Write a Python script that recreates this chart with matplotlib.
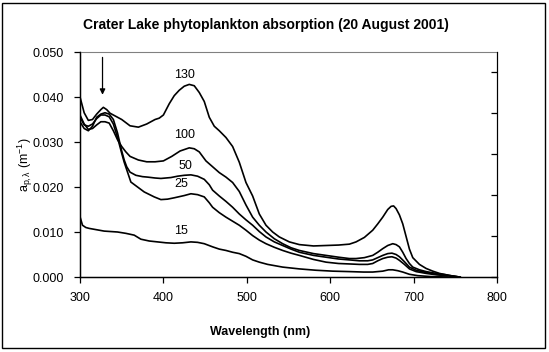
import matplotlib
matplotlib.use("Agg")
import matplotlib.pyplot as plt
from matplotlib.patches import Rectangle

plt.rcParams['font.family'] = ['Liberation Sans', 'DejaVu Sans']
plt.rcParams['mathtext.fontset'] = 'custom'
plt.rcParams['mathtext.rm'] = 'Liberation Sans'
plt.rcParams['mathtext.it'] = 'Liberation Sans'

# ---- data ----
wl_130 = [300, 305, 310, 315, 320, 325, 328, 332, 336, 340, 350, 360, 370, 380, 390, 395, 400,
          407, 413, 419, 425, 431, 437, 443, 449, 455, 461, 467, 475, 483, 491, 499, 507, 515,
          523, 531, 539, 551, 563, 580, 595, 610, 623, 631, 641, 651, 657, 663, 669, 673, 676,
          679, 683, 687, 691, 695, 699, 707, 715, 723, 731, 741, 751, 755]
a_130 = [0.0400, 0.0365, 0.0348, 0.0350, 0.0362, 0.0372, 0.0377, 0.0372, 0.0364, 0.0360, 0.0350,
         0.0336, 0.0333, 0.0340, 0.0350, 0.0353, 0.0360, 0.0385, 0.0403, 0.0415, 0.0424, 0.0428,
         0.0425, 0.0410, 0.0390, 0.0355, 0.0335, 0.0325, 0.0310, 0.0290, 0.0255, 0.0210, 0.0180,
         0.0140, 0.0115, 0.0100, 0.0089, 0.0078, 0.0072, 0.0069, 0.0070, 0.0071, 0.0073, 0.0078,
         0.0088, 0.0104, 0.0118, 0.0133, 0.0150, 0.0157, 0.0158, 0.0152, 0.0138, 0.0118, 0.0090,
         0.0062, 0.0043, 0.0028, 0.0019, 0.0013, 0.0008, 0.0004, 0.0001, 0.0000]

wl_100 = [300, 305, 310, 315, 320, 325, 330, 335, 340, 345, 350, 355, 360, 370, 380, 390, 400,
          410, 420, 431, 437, 443, 451, 459, 467, 475, 483, 491, 499, 507, 515, 523, 533, 543,
          553, 563, 580, 595, 610, 623, 631, 641, 651, 657, 663, 669, 675, 679, 683, 687, 691,
          695, 699, 707, 715, 727, 739, 750, 756]
a_100 = [0.0360, 0.0340, 0.0328, 0.0330, 0.0338, 0.0345, 0.0345, 0.0342, 0.0325, 0.0305, 0.0290,
         0.0278, 0.0268, 0.0260, 0.0256, 0.0256, 0.0258, 0.0268, 0.0280, 0.0287, 0.0285, 0.0278,
         0.0258, 0.0245, 0.0232, 0.0222, 0.0210, 0.0190, 0.0160, 0.0133, 0.0115, 0.0100, 0.0085,
         0.0074, 0.0065, 0.0059, 0.0052, 0.0048, 0.0044, 0.0041, 0.0041, 0.0043, 0.0048, 0.0055,
         0.0063, 0.0070, 0.0074, 0.0072, 0.0067, 0.0055, 0.0041, 0.0030, 0.0022, 0.0016, 0.0012,
         0.0008, 0.0005, 0.0001, 0.0000]

wl_50 = [300, 305, 310, 315, 320, 325, 330, 335, 340, 345, 350, 353, 356, 360, 367, 375, 381,
         390, 397, 409, 417, 425, 433, 441, 449, 455, 459, 467, 475, 483, 491, 499, 507, 515,
         523, 533, 543, 553, 563, 580, 595, 610, 623, 635, 645, 651, 657, 663, 669, 674, 679,
         683, 689, 695, 703, 715, 727, 739, 750, 755]
a_50 = [0.0345, 0.0330, 0.0325, 0.0335, 0.0355, 0.0362, 0.0365, 0.0362, 0.0350, 0.0320, 0.0280,
        0.0260, 0.0245, 0.0233, 0.0226, 0.0223, 0.0222, 0.0220, 0.0219, 0.0221, 0.0224, 0.0226,
        0.0227, 0.0224, 0.0217, 0.0205, 0.0193, 0.0180, 0.0168, 0.0155, 0.0140, 0.0127, 0.0115,
        0.0101, 0.0089, 0.0078, 0.0070, 0.0062, 0.0055, 0.0048, 0.0044, 0.0040, 0.0038, 0.0036,
        0.0036, 0.0038, 0.0043, 0.0048, 0.0052, 0.0053, 0.0050, 0.0045, 0.0034, 0.0022, 0.0015,
        0.0010, 0.0006, 0.0003, 0.0001, 0.0000]

wl_25 = [300, 305, 310, 315, 320, 325, 330, 335, 340, 345, 350, 353, 357, 361, 369, 377, 389,
         397, 405, 413, 425, 433, 441, 449, 455, 459, 467, 475, 483, 491, 499, 507, 515, 523,
         533, 543, 553, 563, 580, 595, 610, 623, 635, 645, 651, 657, 663, 669, 674, 679, 683,
         689, 695, 703, 715, 727, 739, 750, 755]
a_25 = [0.0355, 0.0338, 0.0335, 0.0340, 0.0352, 0.0360, 0.0360, 0.0356, 0.0340, 0.0310, 0.0275,
        0.0255, 0.0233, 0.0211, 0.0200, 0.0189, 0.0178, 0.0172, 0.0173, 0.0176, 0.0181, 0.0185,
        0.0183, 0.0178, 0.0165, 0.0155, 0.0143, 0.0133, 0.0124, 0.0115, 0.0104, 0.0092, 0.0082,
        0.0074, 0.0066, 0.0059, 0.0053, 0.0048, 0.0039, 0.0033, 0.0030, 0.0029, 0.0028, 0.0028,
        0.0030, 0.0036, 0.0041, 0.0044, 0.0045, 0.0042, 0.0037, 0.0028, 0.0018, 0.0012, 0.0008,
        0.0005, 0.0003, 0.0001, 0.0000]

wl_15 = [300, 303, 307, 311, 320, 329, 337, 345, 355, 365, 373, 383, 393, 403, 413, 423, 433,
         441, 449, 459, 467, 475, 483, 491, 499, 507, 515, 525, 543, 563, 583, 603, 623, 640,
         651, 663, 670, 675, 681, 687, 695, 705, 720, 740]
a_15 = [0.0134, 0.0115, 0.0110, 0.0108, 0.0105, 0.0102, 0.0101, 0.0100, 0.0097, 0.0093, 0.0084,
        0.0080, 0.0078, 0.0076, 0.0075, 0.0076, 0.0078, 0.0077, 0.0074, 0.0067, 0.0062, 0.0059,
        0.0055, 0.0052, 0.0046, 0.0038, 0.0033, 0.0028, 0.0022, 0.0018, 0.0015, 0.0013, 0.0012,
        0.0011, 0.0011, 0.0013, 0.0016, 0.0016, 0.0014, 0.0011, 0.0006, 0.0003, 0.0001, 0.0000]

series = [("130", wl_130, a_130), ("100", wl_100, a_100), ("50", wl_50, a_50),
          ("25", wl_25, a_25), ("15", wl_15, a_15)]
label_pos = {"130": (425, 0.0448), "100": (425, 0.0316), "50": (427, 0.0246),
             "25": (421, 0.0207), "15": (421, 0.0103)}

x_ticks = [300, 400, 500, 600, 700, 800]
y_ticks = [0.000, 0.010, 0.020, 0.030, 0.040, 0.050]
arrow_x = 327
arrow_y = (0.0488, 0.0405)

W, H = 549, 352
fig = plt.figure(figsize=(W / 100, H / 100), dpi=100)
ax = fig.add_axes([80 / W, 1 - 277 / H, (497 - 80) / W, (277 - 52) / H])

for name, wl, a in series:
    ax.plot(wl, a, color='black', lw=1.2)
    lx, ly = label_pos[name]
    ax.text(lx, ly, name, ha='center', va='center', fontsize=9)

ax.annotate('', xy=(arrow_x, arrow_y[1]), xytext=(arrow_x, arrow_y[0]),
            arrowprops=dict(arrowstyle='-|>', color='black', lw=0.9,
                            mutation_scale=8, shrinkA=0, shrinkB=0))

ax.set_xlim(300, 800)
ax.set_ylim(0, 0.050)
ax.set_xticks(x_ticks)
ax.set_yticks(y_ticks)
ax.set_xticklabels([str(v) for v in x_ticks], fontsize=9)
ax.set_yticklabels([f"{v:.3f}" for v in y_ticks], fontsize=9)
ax.tick_params(axis='both', direction='out', length=4.5, width=0.9, color='black')
ax.tick_params(axis='y', pad=7)
ax.tick_params(axis='x', pad=6)
ax.spines['top'].set_color('#808080')
ax.spines['right'].set_color('black')
for s in ['left', 'bottom']:
    ax.spines[s].set_linewidth(1.0)

# secondary (unlabelled) right axis with inward ticks
ax2 = ax.twinx()
ax2.set_ylim(0, 0.055)
ax2.set_yticks([0.0, 0.01, 0.02, 0.03, 0.04, 0.05])
ax2.set_yticklabels([])
ax2.tick_params(axis='y', direction='in', length=4.5, width=0.9)
ax2.spines['top'].set_visible(False)

fig.text(266 / W, 1 - 25 / H, 'Crater Lake phytoplankton absorption (20 August 2001)',
         ha='center', va='center', fontsize=10, fontweight='bold')
fig.text(260.5 / W, 1 - 332 / H, 'Wavelength (nm)', ha='center', va='center',
         fontsize=9, fontweight='bold')
fig.text(25 / W, 1 - 165 / H, r'a$_{\mathregular{p,\lambda}}$ (m$^{\mathregular{-1}}$)',
         ha='center', va='center', rotation=90, fontsize=9)

fig.add_artist(Rectangle((2 / W, 4 / H), (W - 6) / W, (H - 7) / H, transform=fig.transFigure,
                         fill=False, edgecolor='black', lw=1.0))

fig.savefig('out.png', dpi=100)
